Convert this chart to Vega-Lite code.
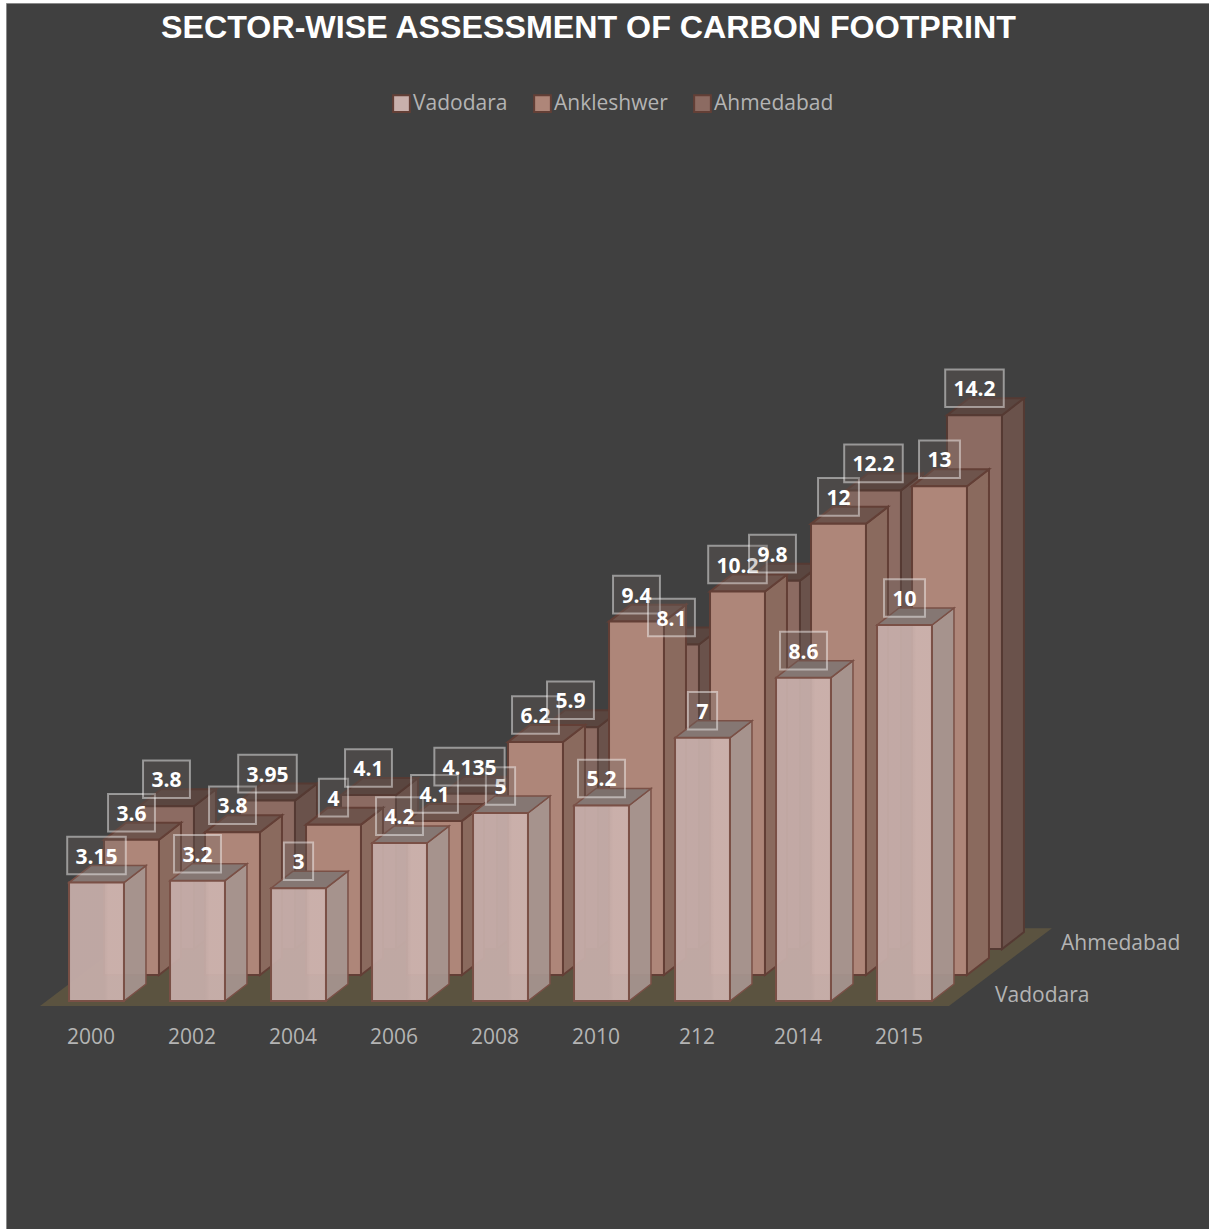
{
  "$schema": "https://vega.github.io/schema/vega-lite/v6.json",
  "autosize": {"type": "none"},
  "padding": {"left": 6, "top": 3, "right": 0, "bottom": 0},
  "width": 1203,
  "height": 1226,
  "background": "#ffffff",
  "view": {"fill": "#404040", "stroke": "#8a8a8a", "strokeWidth": 1},
  "title": {
    "text": "SECTOR-WISE ASSESSMENT OF CARBON FOOTPRINT",
    "font": "Liberation Sans",
    "fontSize": 32.2,
    "fontWeight": "bold",
    "color": "#ffffff",
    "anchor": "middle",
    "dx": -19,
    "dy": 46
  },
  "data": {
    "values": [
      {"period": "2000", "city": "Vadodara", "value": 3.15},
      {"period": "2002", "city": "Vadodara", "value": 3.2},
      {"period": "2004", "city": "Vadodara", "value": 3},
      {"period": "2006", "city": "Vadodara", "value": 4.2},
      {"period": "2008", "city": "Vadodara", "value": 5},
      {"period": "2010", "city": "Vadodara", "value": 5.2},
      {"period": "212", "city": "Vadodara", "value": 7},
      {"period": "2014", "city": "Vadodara", "value": 8.6},
      {"period": "2015", "city": "Vadodara", "value": 10},
      {"period": "2000", "city": "Ankleshwer", "value": 3.6},
      {"period": "2002", "city": "Ankleshwer", "value": 3.8},
      {"period": "2004", "city": "Ankleshwer", "value": 4},
      {"period": "2006", "city": "Ankleshwer", "value": 4.1},
      {"period": "2008", "city": "Ankleshwer", "value": 6.2},
      {"period": "2010", "city": "Ankleshwer", "value": 9.4},
      {"period": "212", "city": "Ankleshwer", "value": 10.2},
      {"period": "2014", "city": "Ankleshwer", "value": 12},
      {"period": "2015", "city": "Ankleshwer", "value": 13},
      {"period": "2000", "city": "Ahmedabad", "value": 3.8},
      {"period": "2002", "city": "Ahmedabad", "value": 3.95},
      {"period": "2004", "city": "Ahmedabad", "value": 4.1},
      {"period": "2006", "city": "Ahmedabad", "value": 4.135},
      {"period": "2008", "city": "Ahmedabad", "value": 5.9},
      {"period": "2010", "city": "Ahmedabad", "value": 8.1},
      {"period": "212", "city": "Ahmedabad", "value": 9.8},
      {"period": "2014", "city": "Ahmedabad", "value": 12.2},
      {"period": "2015", "city": "Ahmedabad", "value": 14.2}
    ]
  },
  "transform": [
    {"calculate": "indexof(['Vadodara','Ankleshwer','Ahmedabad'], datum.city)", "as": "rowIndex"},
    {"calculate": "indexof(['2000','2002','2004','2006','2008','2010','212','2014','2015'], datum.period)", "as": "slot"},
    {"calculate": "datum.slot + datum.rowIndex * 0.3465", "as": "xc"},
    {"calculate": "datum.rowIndex * 0.69", "as": "base"},
    {"calculate": "datum.base + datum.value", "as": "top"}
  ],
  "encoding": {
    "x": {
      "field": "px",
      "type": "quantitative",
      "scale": {"domain": [-0.896, 11.015], "nice": false, "zero": false},
      "axis": {
        "title": null,
        "values": [0, 1, 2, 3, 4, 5, 6, 7, 8],
        "labelExpr": "['2000','2002','2004','2006','2008','2010','212','2014','2015'][datum.value]",
        "grid": false,
        "domain": false,
        "ticks": false,
        "offset": -209,
        "labelPadding": 6,
        "labelOffset": -6,
        "labelFont": "Open Sans",
        "labelFontSize": 21,
        "labelColor": "#b4b4b4"
      }
    },
    "y": {
      "field": "py",
      "type": "quantitative",
      "scale": {"domain": [-6.064, 26.543], "nice": false, "zero": false},
      "axis": null
    }
  },
  "layer": [
    {
      "description": "Floor of the 3-D plot, spanning the three city rows",
      "transform": [
        {"filter": "datum.period === '2000'"},
        {"calculate": "datum.rowIndex / 2", "as": "t"},
        {"calculate": "-0.559 + datum.t * 1.02", "as": "px"},
        {"calculate": "8.44 + datum.t * 1.02", "as": "px2"},
        {"calculate": "-0.133 + datum.t * 2.07", "as": "py"}
      ],
      "mark": {"type": "area", "orient": "horizontal", "fill": "#5b5340"},
      "encoding": {"x2": {"field": "px2"}}
    },
    {
      "description": "Row names along the depth axis",
      "transform": [
        {"filter": "datum.period === '2015' && datum.city !== 'Ankleshwer'"},
        {"calculate": "8.896 + datum.rowIndex * 0.327", "as": "px"},
        {"calculate": "0.14 + datum.rowIndex * 0.69", "as": "py"}
      ],
      "mark": {"type": "text", "align": "left", "baseline": "middle", "font": "Open Sans", "fontSize": 21, "color": "#b4b4b4"},
      "encoding": {"text": {"field": "city", "type": "nominal"}}
    },
    {
      "description": "Ahmedabad columns, back row",
      "transform": [{"filter": "datum.city === 'Ahmedabad'"}],
      "layer": [
        {
          "transform": [
            {"calculate": "[0, 1]", "as": "t"},
            {"flatten": ["t"]},
            {"calculate": "datum.xc + 0.272 + datum.t * 0.218", "as": "px"},
            {"calculate": "datum.top + datum.t * 0.452", "as": "py"},
            {"calculate": "datum.base + datum.t * 0.452", "as": "py2"}
          ],
          "mark": {"type": "area", "fill": "#6a524b", "stroke": "#553a33", "strokeWidth": 2},
          "encoding": {"y2": {"field": "py2"}, "detail": {"field": "period"}}
        },
        {
          "transform": [
            {"calculate": "[0, 1]", "as": "t"},
            {"flatten": ["t"]},
            {"calculate": "datum.xc - 0.272 + datum.t * 0.218", "as": "px"},
            {"calculate": "datum.xc + 0.272 + datum.t * 0.218", "as": "px2"},
            {"calculate": "datum.top + datum.t * 0.452", "as": "py"}
          ],
          "mark": {"type": "area", "orient": "horizontal", "fill": "#5a4640", "stroke": "#553a33", "strokeWidth": 2},
          "encoding": {"x2": {"field": "px2"}, "detail": {"field": "period"}}
        },
        {
          "transform": [
            {"calculate": "datum.xc - 0.272", "as": "px"},
            {"calculate": "datum.xc + 0.272", "as": "px2"},
            {"calculate": "datum.top", "as": "py"},
            {"calculate": "datum.base", "as": "py2"}
          ],
          "mark": {"type": "rect", "stroke": "#553a33", "strokeWidth": 2},
          "encoding": {
            "x2": {"field": "px2"},
            "y2": {"field": "py2"},
            "color": {
              "field": "city",
              "type": "nominal",
              "scale": {"domain": ["Vadodara", "Ankleshwer", "Ahmedabad"], "range": ["#c9b0ac", "#ae8679", "#8c6b62"]},
              "legend": {
                "title": null,
                "orient": "none",
                "legendX": 385,
                "legendY": 90,
                "direction": "horizontal",
                "columns": 3,
                "columnPadding": 22,
                "symbolType": "square",
                "symbolSize": 280,
                "symbolStrokeColor": "#6a4238",
                "symbolStrokeWidth": 2,
                "symbolOpacity": 1,
                "labelFont": "Open Sans",
                "labelFontSize": 21,
                "labelColor": "#b4b4b4",
                "labelOffset": 1
              }
            }
          }
        }
      ]
    },
    {
      "description": "Ankleshwer columns, middle row",
      "transform": [{"filter": "datum.city === 'Ankleshwer'"}],
      "layer": [
        {
          "transform": [
            {"calculate": "[0, 1]", "as": "t"},
            {"flatten": ["t"]},
            {"calculate": "datum.xc + 0.272 + datum.t * 0.218", "as": "px"},
            {"calculate": "datum.top + datum.t * 0.452", "as": "py"},
            {"calculate": "datum.base + datum.t * 0.452", "as": "py2"}
          ],
          "mark": {"type": "area", "fill": "#8a6a5e", "stroke": "#633f36", "strokeWidth": 2},
          "encoding": {"y2": {"field": "py2"}, "detail": {"field": "period"}}
        },
        {
          "transform": [
            {"calculate": "[0, 1]", "as": "t"},
            {"flatten": ["t"]},
            {"calculate": "datum.xc - 0.272 + datum.t * 0.218", "as": "px"},
            {"calculate": "datum.xc + 0.272 + datum.t * 0.218", "as": "px2"},
            {"calculate": "datum.top + datum.t * 0.452", "as": "py"}
          ],
          "mark": {"type": "area", "orient": "horizontal", "fill": "#6e544c", "stroke": "#633f36", "strokeWidth": 2},
          "encoding": {"x2": {"field": "px2"}, "detail": {"field": "period"}}
        },
        {
          "transform": [
            {"calculate": "datum.xc - 0.272", "as": "px"},
            {"calculate": "datum.xc + 0.272", "as": "px2"},
            {"calculate": "datum.top", "as": "py"},
            {"calculate": "datum.base", "as": "py2"}
          ],
          "mark": {"type": "rect", "stroke": "#633f36", "strokeWidth": 2},
          "encoding": {
            "x2": {"field": "px2"},
            "y2": {"field": "py2"},
            "color": {
              "field": "city",
              "type": "nominal",
              "scale": {"domain": ["Vadodara", "Ankleshwer", "Ahmedabad"], "range": ["#c9b0ac", "#ae8679", "#8c6b62"]}
            }
          }
        }
      ]
    },
    {
      "description": "Vadodara columns, front row, slightly see-through",
      "transform": [{"filter": "datum.city === 'Vadodara'"}],
      "layer": [
        {
          "transform": [
            {"calculate": "[0, 1]", "as": "t"},
            {"flatten": ["t"]},
            {"calculate": "datum.xc + 0.272 + datum.t * 0.218", "as": "px"},
            {"calculate": "datum.top + datum.t * 0.452", "as": "py"},
            {"calculate": "datum.base + datum.t * 0.452", "as": "py2"}
          ],
          "mark": {"type": "area", "fill": "#a5948e", "fillOpacity": 0.95, "stroke": "#7a5046", "strokeWidth": 1.5},
          "encoding": {"y2": {"field": "py2"}, "detail": {"field": "period"}}
        },
        {
          "transform": [
            {"calculate": "[0, 1]", "as": "t"},
            {"flatten": ["t"]},
            {"calculate": "datum.xc - 0.272 + datum.t * 0.218", "as": "px"},
            {"calculate": "datum.xc + 0.272 + datum.t * 0.218", "as": "px2"},
            {"calculate": "datum.top + datum.t * 0.452", "as": "py"}
          ],
          "mark": {"type": "area", "orient": "horizontal", "fill": "#857773", "stroke": "#7a5046", "strokeWidth": 1.5},
          "encoding": {"x2": {"field": "px2"}, "detail": {"field": "period"}}
        },
        {
          "transform": [
            {"calculate": "datum.xc - 0.272", "as": "px"},
            {"calculate": "datum.xc + 0.272", "as": "px2"},
            {"calculate": "datum.top", "as": "py"},
            {"calculate": "datum.base", "as": "py2"}
          ],
          "mark": {"type": "rect", "stroke": "#7a5046", "strokeWidth": 2, "fillOpacity": 0.95},
          "encoding": {
            "x2": {"field": "px2"},
            "y2": {"field": "py2"},
            "color": {
              "field": "city",
              "type": "nominal",
              "scale": {"domain": ["Vadodara", "Ankleshwer", "Ahmedabad"], "range": ["#c9b0ac", "#ae8679", "#8c6b62"]}
            }
          }
        }
      ]
    },
    {
      "description": "Soft vertical sheen across the front row faces",
      "transform": [
        {"calculate": "datum.xc - 0.265", "as": "px"},
        {"calculate": "datum.xc + 0.265", "as": "px2"},
        {"calculate": "datum.top - 0.03", "as": "py"},
        {"calculate": "datum.base + 0.03", "as": "py2"},
        {"filter": "datum.city === 'Vadodara'"}
      ],
      "mark": {
        "type": "rect",
        "fill": {
          "gradient": "linear",
          "x1": 0, "y1": 0, "x2": 1, "y2": 0,
          "stops": [
            {"offset": 0, "color": "rgba(0,0,0,0.02)"},
            {"offset": 0.62, "color": "rgba(0,0,0,0.02)"},
            {"offset": 0.72, "color": "rgba(255,210,200,0.04)"},
            {"offset": 1, "color": "rgba(255,210,200,0.04)"}
          ]
        }
      },
      "encoding": {"x2": {"field": "px2"}, "y2": {"field": "py2"}}
    },
    {
      "description": "Value tags, front row first so the back rows sit over it",
      "transform": [
        {"calculate": "length(replace('' + datum.value, '.', ''))", "as": "digits"},
        {"calculate": "(17.5 + 11.7 * datum.digits + (indexof('' + datum.value, '.') >= 0 ? 6 : 0)) / 101", "as": "tagWidth"},
        {"calculate": "datum.xc - datum.tagWidth / 2", "as": "px"},
        {"calculate": "datum.xc + datum.tagWidth / 2", "as": "px2"},
        {"calculate": "datum.top + 0.718 + 0.5", "as": "py"},
        {"calculate": "datum.top + 0.718 - 0.5", "as": "py2"}
      ],
      "layer": [
        {
          "transform": [{"filter": "datum.city === 'Vadodara'"}],
          "layer": [
            {
              "mark": {"type": "rect", "fill": "#6b5f5c", "fillOpacity": 0.3, "stroke": "#ffffff", "strokeOpacity": 0.45, "strokeWidth": 2},
              "encoding": {"x2": {"field": "px2"}, "y2": {"field": "py2"}}
            },
            {
              "transform": [
                {"calculate": "datum.xc", "as": "px"},
                {"calculate": "datum.top + 0.718", "as": "py"}
              ],
              "mark": {"type": "text", "font": "Open Sans", "fontSize": 21, "fontWeight": "bold", "color": "#ffffff", "baseline": "middle", "dy": 2},
              "encoding": {"text": {"field": "value", "type": "nominal"}}
            }
          ]
        },
        {
          "transform": [{"filter": "datum.city === 'Ankleshwer'"}],
          "layer": [
            {
              "mark": {"type": "rect", "fill": "#6b5f5c", "fillOpacity": 0.3, "stroke": "#ffffff", "strokeOpacity": 0.45, "strokeWidth": 2},
              "encoding": {"x2": {"field": "px2"}, "y2": {"field": "py2"}}
            },
            {
              "transform": [
                {"calculate": "datum.xc", "as": "px"},
                {"calculate": "datum.top + 0.718", "as": "py"}
              ],
              "mark": {"type": "text", "font": "Open Sans", "fontSize": 21, "fontWeight": "bold", "color": "#ffffff", "baseline": "middle", "dy": 2},
              "encoding": {"text": {"field": "value", "type": "nominal"}}
            }
          ]
        },
        {
          "transform": [{"filter": "datum.city === 'Ahmedabad'"}],
          "layer": [
            {
              "mark": {"type": "rect", "fill": "#6b5f5c", "fillOpacity": 0.3, "stroke": "#ffffff", "strokeOpacity": 0.45, "strokeWidth": 2},
              "encoding": {"x2": {"field": "px2"}, "y2": {"field": "py2"}}
            },
            {
              "transform": [
                {"calculate": "datum.xc", "as": "px"},
                {"calculate": "datum.top + 0.718", "as": "py"}
              ],
              "mark": {"type": "text", "font": "Open Sans", "fontSize": 21, "fontWeight": "bold", "color": "#ffffff", "baseline": "middle", "dy": 2},
              "encoding": {"text": {"field": "value", "type": "nominal"}}
            }
          ]
        }
      ]
    }
  ]
}
